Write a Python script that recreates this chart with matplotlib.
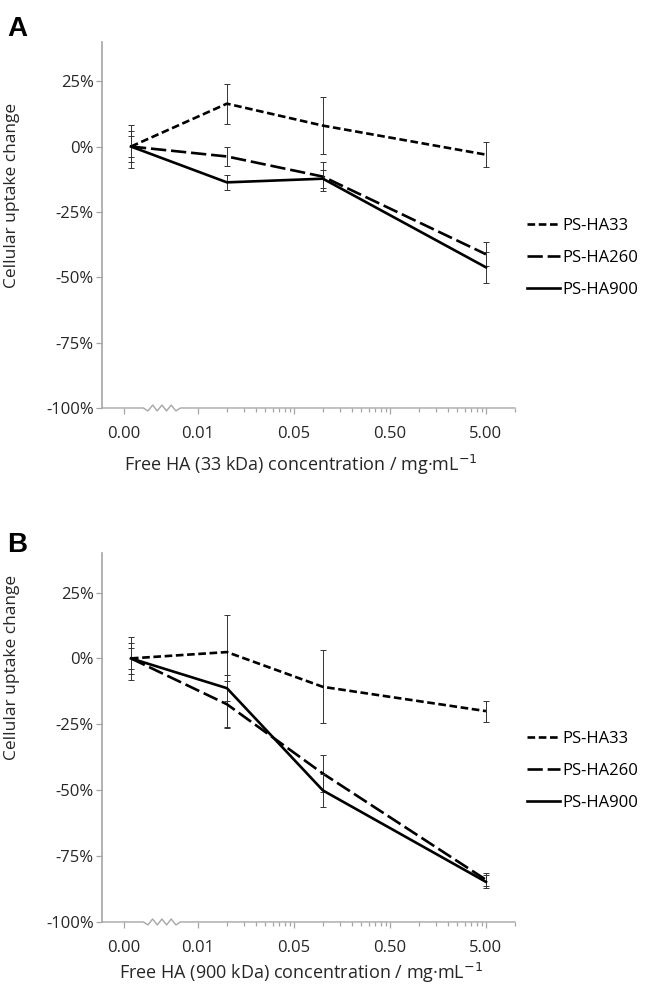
import numpy as np
import matplotlib
matplotlib.use("Agg")
import matplotlib.pyplot as plt
from matplotlib.ticker import FixedLocator, FixedFormatter

plt.rcParams['font.family'] = ['Open Sans', 'DejaVu Sans']
plt.rcParams['lines.scale_dashes'] = False

##### DATA #####
# concentration of free HA (mg/mL); the zero point sits left of the axis break
conc = [0.001, 0.01, 0.1, 5.0]
series = ["PS-HA33", "PS-HA260", "PS-HA900"]

# panel A: free HA 33 kDa  (mean, lower error, upper error) in %
a_mean = {"PS-HA33": [0, 16.4, 8.0, -3.1],
          "PS-HA260": [0, -3.8, -11.5, -41.2],
          "PS-HA900": [0, -13.7, -12.3, -46.2]}
a_lo = {"PS-HA33": [8.2, 7.6, 10.8, 4.8],
        "PS-HA260": [6.0, 3.8, 5.5, 4.6],
        "PS-HA900": [4.0, 3.0, 3.5, 6.0]}
a_hi = a_lo

# panel B: free HA 900 kDa
b_mean = {"PS-HA33": [0, 2.4, -10.8, -20.0],
          "PS-HA260": [0, -17.4, -43.7, -84.0],
          "PS-HA900": [0, -11.3, -50.1, -84.8]}
b_lo = {"PS-HA33": [8.2, 28.6, 13.8, 4.0],
        "PS-HA260": [6.0, 9.0, 7.0, 2.5],
        "PS-HA900": [4.0, 5.0, 6.4, 2.5]}
b_hi = {"PS-HA33": [8.2, 14.0, 13.8, 4.0],
        "PS-HA260": [6.0, 9.0, 7.0, 2.5],
        "PS-HA900": [4.0, 5.0, 6.4, 2.5]}

xtick_pos = [0.00085, 0.005, 0.05, 0.5, 5.0]
xtick_lab = ["0.00", "0.01", "0.05", "0.50", "5.00"]
xminor = [m * d for d in (0.005, 0.05, 0.5) for m in range(2, 10)] + [10.0]
yticks = [25, 0, -25, -50, -75, -100]

dash_style = {"PS-HA33": (0, (5.5, 2.6)),
              "PS-HA260": (0, (11, 3.5)),
              "PS-HA900": "-"}

gray = "#a6a6a6"
txt = "#262626"


def draw_panel(ax, means, lo, hi, xlabel, label_y):
    for s in series:
        ax.errorbar(conc, means[s], yerr=[lo[s], hi[s]], fmt="none",
                    elinewidth=0.7, ecolor="#333333", capsize=2.3, capthick=0.7)
        ax.plot(conc, means[s], color="black", lw=1.9,
                linestyle=dash_style[s], label=s)
    ax.set_xscale("log")
    ax.set_xlim(0.0005, 10)
    ax.set_ylim(-100, 40)
    ax.xaxis.set_major_locator(FixedLocator(xtick_pos))
    ax.xaxis.set_major_formatter(FixedFormatter(xtick_lab))
    ax.xaxis.set_minor_locator(FixedLocator(xminor))
    ax.xaxis.set_minor_formatter(FixedFormatter([]))
    ax.set_yticks(yticks)
    ax.set_yticklabels([f"{v}%" for v in yticks])
    for side in ("top", "right", "bottom"):
        ax.spines[side].set_visible(False)
    ax.spines["left"].set_color(gray)
    ax.spines["left"].set_linewidth(1.2)
    ax.tick_params(axis="both", which="both", color=gray, labelcolor=txt,
                   labelsize=12, width=0.9)
    ax.tick_params(axis="x", which="major", length=4, pad=9)
    ax.tick_params(axis="x", which="minor", length=3)
    ax.tick_params(axis="y", length=4, pad=2)

    # broken x axis line with zigzag
    zx = np.linspace(0.100, 0.19, 9)
    zy = np.array([0, -1, 1, -1, 1, -1, 1, -1, 0]) * 0.008
    bx = np.concatenate([[0], zx, [1]])
    by = np.concatenate([[0], zy, [0]])
    ax.plot(bx, by, color=gray, lw=1.0, transform=ax.transAxes, clip_on=False)

    ax.set_xlabel(xlabel, fontsize=13, color=txt)
    ax.xaxis.set_label_coords(0.482, label_y)
    ax.legend(loc="center left", bbox_to_anchor=(1.0, 0.41), frameon=False,
              fontsize=12, handlelength=2.0, handletextpad=0.15,
              labelspacing=0.95, borderaxespad=0.3)


fig = plt.figure(figsize=(6.46, 9.85), dpi=100)
axA = fig.add_axes([0.158, 0.5858, 0.639, 0.3716])
axB = fig.add_axes([0.158, 0.064, 0.639, 0.3746])

draw_panel(axA, a_mean, a_lo, a_hi,
           "Free HA (33 kDa) concentration / mg·mL$^{-1}$", -0.122)
draw_panel(axB, b_mean, b_lo, b_hi,
           "Free HA (900 kDa) concentration / mg·mL$^{-1}$", -0.105)

for ax, yc in ((axA, 0.802), (axB, 0.322)):
    fig.text(0.019, yc, "Cellular uptake change", rotation=90, ha="center",
             va="center", fontsize=12.5, color=txt)

fig.text(0.011, 0.9635, "A", fontsize=20, fontweight="bold",
         family="Liberation Sans", va="baseline")
fig.text(0.011, 0.44, "B", fontsize=20, fontweight="bold",
         family="Liberation Sans", va="baseline")

fig.savefig("out.png", dpi=100)
